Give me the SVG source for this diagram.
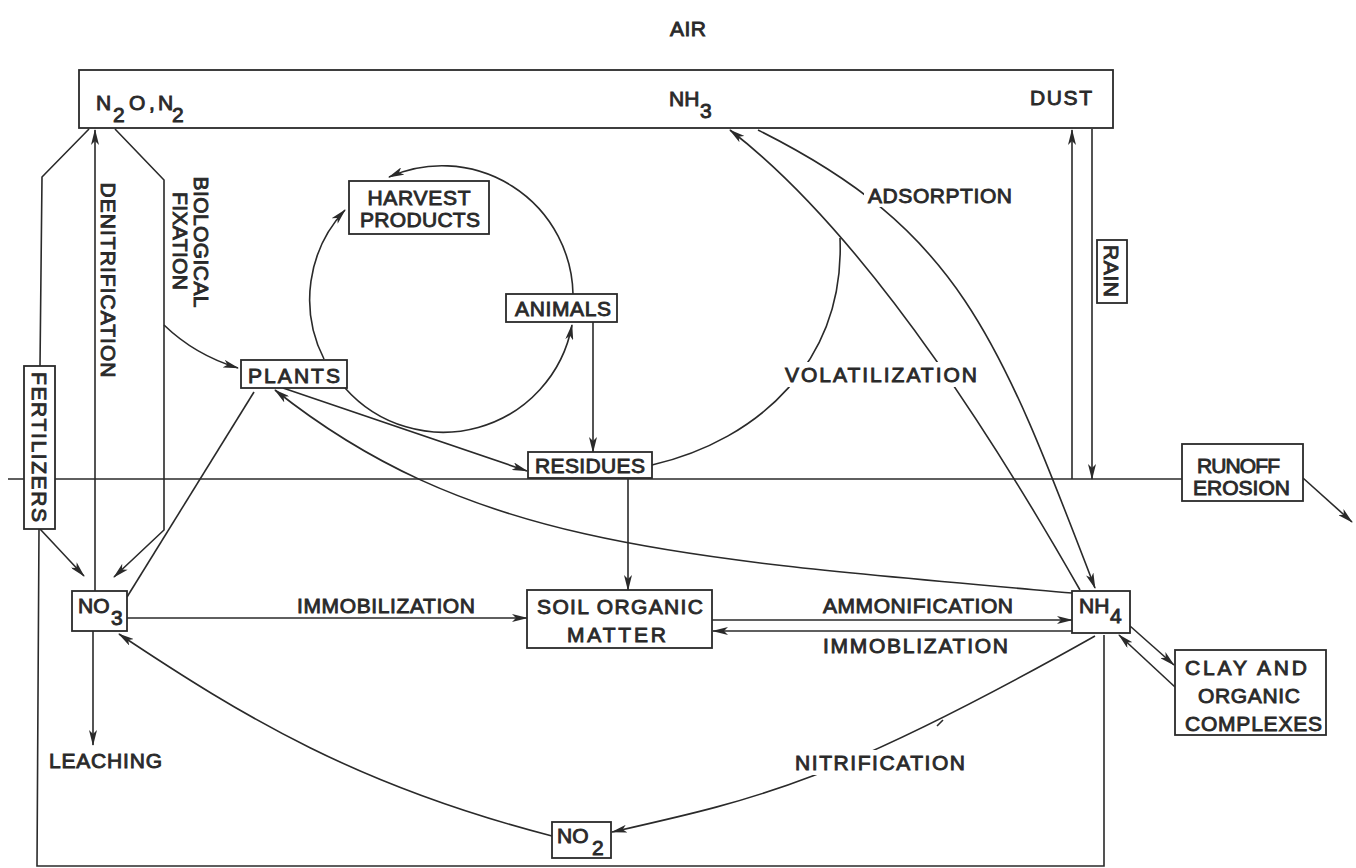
<svg xmlns="http://www.w3.org/2000/svg" width="1356" height="868" viewBox="0 0 1356 868">
<style>
.t{font-family:"Liberation Sans",Arial,sans-serif;font-size:21px;fill:#2a2a2a;stroke:#2a2a2a;stroke-width:0.9}
.m{text-anchor:middle}
.b{fill:#fff;stroke:#2a2a2a;stroke-width:1.8}
.c{fill:none;stroke:#2a2a2a;stroke-width:1.6}
.a{marker-end:url(#ah)}
.bg{fill:#fff;stroke:none}
</style>
<defs>
<marker id="ah" viewBox="0 0 16 8" refX="15" refY="4" markerWidth="16" markerHeight="8" markerUnits="userSpaceOnUse" orient="auto">
<path d="M0,0 L16,4 L0,8 L4,4 z" fill="#2a2a2a"/>
</marker>
</defs>
<rect width="1356" height="868" fill="#fff"/>

<text class="t" x="670" y="36" textLength="36">AIR</text>

<g id="connectors">
<path class="c" d="M8,479 L1182,479"/>
<path class="c a" d="M95,591 L95,130"/>
<path class="c" d="M40,366 L42,177 L89,129"/>
<path class="c a" d="M40,529 L84,576"/>
<path class="c" d="M39,529 L37,866 L1104,866 L1104,635"/>
<path class="c a" d="M115,129 L164,180 L164,530 L114,577"/>
<path class="c a" d="M164,325 Q195,355 238,368"/>
<path class="c" d="M254,392 L127,597"/>
<path class="c a" d="M324,359 A131,131 0 0 1 345,210"/>
<path class="c a" d="M573,294 A131,131 0 0 0 389,177"/>
<path class="c a" d="M345,388 A131,131 0 0 0 572,325"/>
<path class="c a" d="M283,388 L527,471"/>
<path class="c a" d="M593,322 L593,452"/>
<path class="c a" d="M628,479 L628,590"/>
<path class="c" d="M652,465 C760,440 845,360 840,238"/>
<path class="c a" d="M1080,590 Q887,251 730,130"/>
<path class="c a" d="M758,130 C958,230 997,332 1095,588"/>
<path class="c a" d="M1072,593 C672,558 470,545 275,390"/>
<path class="c a" d="M127,618 L527,618"/>
<path class="c a" d="M712,620 L1072,620"/>
<path class="c a" d="M1072,631 L713,631"/>
<path class="c a" d="M1130,626 L1174,665"/>
<path class="c a" d="M1175,687 L1119,635"/>
<path class="c a" d="M1095,636 C834,783 758,799 612,832"/>
<path class="c" d="M937,726 L943,720"/>
<path class="c a" d="M552,836 C358,786 245,718 119,634"/>
<path class="c a" d="M93,631 L93,745"/>
<path class="c a" d="M1072,479 L1072,130"/>
<path class="c a" d="M1092,129 L1092,479"/>
<path class="c a" d="M1303,478 L1352,522"/>
</g>

<g id="air">
<rect class="b" x="79" y="70" width="1034" height="58"/>
<text class="t"><tspan x="96" y="110">N</tspan><tspan x="113" y="122">2</tspan><tspan x="129" y="110">O</tspan><tspan x="149" y="110">,</tspan><tspan x="158" y="110">N</tspan><tspan x="172" y="122">2</tspan></text>
<text class="t"><tspan x="669" y="106">NH</tspan><tspan x="700" y="118">3</tspan></text>
<text class="t" x="1030" y="105" textLength="62">DUST</text>
</g>

<g id="harvest">
<rect class="b" x="349" y="181" width="140" height="53"/>
<text class="t m" x="419" y="205" textLength="103">HARVEST</text>
<text class="t m" x="420" y="227" textLength="120">PRODUCTS</text>
</g>

<g id="animals">
<rect class="b" x="506" y="294" width="111" height="28"/>
<text class="t" x="515" y="316" textLength="96">ANIMALS</text>
</g>

<g id="plants">
<rect class="b" x="241" y="360" width="106" height="28"/>
<text class="t" x="248" y="383" textLength="92">PLANTS</text>
</g>

<g id="residues">
<rect class="b" x="528" y="452" width="124" height="26"/>
<text class="t" x="535" y="473" textLength="110">RESIDUES</text>
</g>

<g id="som">
<rect class="b" x="527" y="590" width="185" height="58"/>
<text class="t" x="537" y="614" textLength="166">SOIL ORGANIC</text>
<text class="t" x="567" y="642" textLength="99">MATTER</text>
</g>

<g id="no3">
<rect class="b" x="72" y="591" width="55" height="40"/>
<text class="t"><tspan x="78" y="613">NO</tspan><tspan x="111" y="625">3</tspan></text>
</g>

<g id="nh4">
<rect class="b" x="1072" y="591" width="58" height="42"/>
<text class="t"><tspan x="1079" y="613">NH</tspan><tspan x="1110" y="623">4</tspan></text>
</g>

<g id="no2">
<rect class="b" x="552" y="822" width="59" height="36"/>
<text class="t"><tspan x="557" y="843">NO</tspan><tspan x="592" y="855">2</tspan></text>
</g>

<g id="clay">
<rect class="b" x="1175" y="650" width="151" height="85"/>
<text class="t" x="1185" y="675" textLength="122">CLAY AND</text>
<text class="t" x="1198" y="703" textLength="102">ORGANIC</text>
<text class="t" x="1185" y="731" textLength="137">COMPLEXES</text>
</g>

<g id="runoff">
<rect class="b" x="1182" y="444" width="121" height="57"/>
<text class="t" x="1197" y="473" textLength="83">RUNOFF</text>
<text class="t" x="1193" y="495" textLength="97">EROSION</text>
</g>

<g id="fertilizers">
<rect class="b" x="24" y="366" width="31" height="163"/>
<text class="t m" transform="translate(32,447) rotate(90)" textLength="150">FERTILIZERS</text>
</g>

<g id="rain">
<rect class="b" x="1097" y="240" width="30" height="63"/>
<text class="t m" transform="translate(1104,271) rotate(90)" textLength="52">RAIN</text>
</g>

<g id="labels">
<text class="t m" transform="translate(101,280) rotate(90)" textLength="195">DENITRIFICATION</text>
<text class="t m" transform="translate(194,242) rotate(90)" textLength="131">BIOLOGICAL</text>
<text class="t m" transform="translate(173,241) rotate(90)" textLength="98">FIXATION</text>
<rect class="bg" x="864" y="185" width="152" height="22"/>
<text class="t" x="868" y="203" textLength="144">ADSORPTION</text>
<rect class="bg" x="781" y="362" width="200" height="25"/>
<text class="t" x="785" y="382" textLength="192">VOLATILIZATION</text>
<text class="t" x="297" y="613" textLength="178">IMMOBILIZATION</text>
<text class="t" x="823" y="613" textLength="190">AMMONIFICATION</text>
<text class="t" x="823" y="653" textLength="185">IMMOBLIZATION</text>
<rect class="bg" x="791" y="750" width="178" height="25"/>
<text class="t" x="795" y="770" textLength="170">NITRIFICATION</text>
<text class="t" x="49" y="768" textLength="113">LEACHING</text>
</g>
</svg>
